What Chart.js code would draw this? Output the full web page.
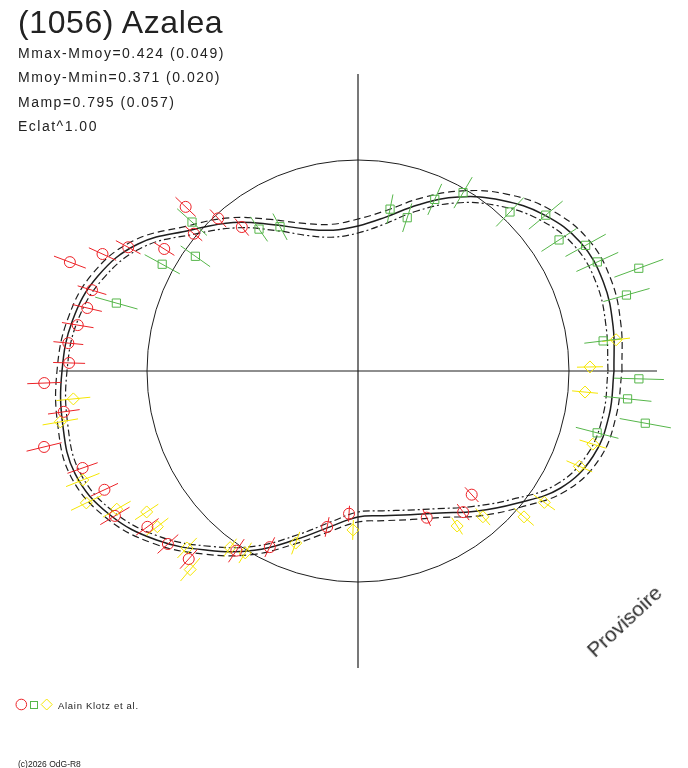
<!DOCTYPE html>
<html><head><meta charset="utf-8">
<script src="https://cdn.jsdelivr.net/npm/chart.js@4.4.1/dist/chart.umd.min.js"></script>
<style>
html,body{margin:0;padding:0;background:#fff;}
#wrap{position:relative;width:688px;height:768px;overflow:hidden;font-family:"Liberation Sans",Arial,sans-serif;color:#222;}
#c{position:absolute;left:0;top:0;}
.t{position:absolute;white-space:nowrap;line-height:1;}
</style></head><body>
<div id="wrap"><canvas id="c" width="688" height="768"></canvas></div>
<script>
// ---- texts ----
const TITLE = "(1056) Azalea";
const STATS = ["Mmax-Mmoy=0.424 (0.049)", "Mmoy-Mmin=0.371 (0.020)", "Mamp=0.795 (0.057)", "Eclat^1.00"];
const LEGEND_LABEL = "Alain Klotz et al.";
const COPYRIGHT = "(c)2026 OdG-R8";
const WATERMARK = "Provisoire";

// ---- mean lightcurve in polar form (angle deg, radius) ----
const CURVE_ANGLE = [0,10,20,30,40,50,60,70,80,90,100,110,120,130,140,150,160,170,180,190,200,210,220,230,240,250,260,270,280,290,300,310,320,330,340,350,360];
const CURVE_MID   = [256,259,261,257,243,223,201,177,156,145,143,151,169,194,219,254,277,290,296,300,301,287,263,234,207,179,158,146,147,153,164,183,206,234,250,255,256];
const CURVE_OUTER = [264,267,269,265,251,231,208,184,163,152,149,157,175,200,225,260,283,295,301,305,306,292,268,239,212,184,163,151,152,158,169,189,212,240,257,262,264];
const CURVE_INNER = [250,252,254,250,236,216,194,170,149,138,136,144,162,187,213,248,271,285,291,295,296,282,258,229,202,174,153,141,142,148,159,177,200,228,244,249,250];

// ---- observations: angle (deg), radius, error half-length ----
const RED_ANGLE = [128.9,132.5,136.4,140.1,147.8,151.7,155.4,159.3,163.1,166.9,170.7,174.5,178.4,182.2,187.9,193.6,199.4,205.1,210.8,216.5,222.3,228.0,235.9,243.4,258.8,266.4,295.1,306.7,312.6];
const RED_R     = [185,207,238,214,229,261,281,308,278,278,284,291,289,314,297,323,292,280,283,262,257,253,217,197,159,143,162,176,168];
const RED_ERR   = [11,12,14,11,12,14,15,17,15,15,16,15,16,17,16,18,16,15,17,14,14,13,14,11,10,8,9,10,10];

const GREEN_ANGLE = [345.5,349.7,354.1,358.4,7.0,15.8,20.1,24.5,28.9,33.1,39.7,46.3,59.5,65.9,72.2,78.8,118.4,124.9,138.1,144.8,151.4,164.3];
const GREEN_R     = [247,292,271,281,247,279,299,263,260,240,244,220,207,188,161,165,164,173,223,199,223,251];
const GREEN_ERR   = [22,26,24,25,19,24,26,23,23,21,22,20,18,17,15,15,15,15,20,18,20,22];

const YELLOW_ANGLE = [1.0,6.9,185.6,189.7,201.6,205.9,209.8,213.7,217.8,226.0,229.8,234.1,238.2,250.1,268.2,302.6,310.6,318.7,324.8,336.7,342.7,354.7];
const YELLOW_R     = [232,260,286,302,296,302,278,254,254,246,260,218,214,183,159,184,192,221,228,241,246,228];
const YELLOW_ERR   = [13,14,17,18,18,17,16,14,14,14,15,11,12,12,10,10,11,13,13,14,14,13];

const REF_CIRCLE_R = 211;
const AXIS_X_HALF = 299;
const AXIS_Y_HALF = 297;

// ---- colours ----
const RED = '#ec2227', GREEN = '#56b64a', YELLOW = '#f5e600', INK = '#1e1e1e';

function polar(a, r) { const t = a * Math.PI / 180; return { x: r * Math.cos(t), y: r * Math.sin(t) }; }
function toPoints(angles, radii) { return angles.map((a, i) => polar(a, radii[i])); }
function errorBars(angles, radii, errs) {
  const out = [];
  angles.forEach((a, i) => {
    out.push(polar(a, radii[i] - errs[i]));
    out.push(polar(a, radii[i] + errs[i]));
    out.push({ x: polar(a, radii[i]).x, y: null });
  });
  return out;
}

function lineDs(data, color, width, dash, order) {
  return { data, showLine: true, borderColor: color, borderWidth: width, borderDash: dash || [],
           pointRadius: 0, fill: false, tension: 0, order, spanGaps: false };
}
function curveDs(data, dash, width) {
  const d = lineDs(data, INK, width, dash, 8); d.tension = 0.4; return d;
}
function markerDs(data, color, style, radius) {
  return { data, showLine: false, pointStyle: style, pointRadius: radius, pointBorderColor: color,
           pointBackgroundColor: 'rgba(0,0,0,0)', pointBorderWidth: 1, borderColor: color, backgroundColor: 'rgba(0,0,0,0)', order: 1 };
}

const refCircle = {
  id: 'refCircle',
  beforeDatasetsDraw(chart) {
    const { ctx, scales: { x, y } } = chart;
    const cx = x.getPixelForValue(0), cy = y.getPixelForValue(0);
    const r = x.getPixelForValue(REF_CIRCLE_R) - cx;
    ctx.save(); ctx.strokeStyle = INK; ctx.lineWidth = 1;
    ctx.beginPath(); ctx.arc(cx, cy, r, 0, Math.PI * 2); ctx.stroke(); ctx.restore();
  }
};

const legendMarks = {
  id: 'legendMarks',
  afterDraw(chart) {
    const ctx = chart.ctx; ctx.save(); ctx.lineWidth = 1;
    ctx.strokeStyle = RED; ctx.beginPath(); ctx.arc(21.3, 704.5, 5.3, 0, Math.PI * 2); ctx.stroke();
    ctx.strokeStyle = GREEN; ctx.strokeRect(30.5, 701.5, 7, 7);
    ctx.strokeStyle = YELLOW; ctx.beginPath();
    ctx.moveTo(46.7, 699); ctx.lineTo(52.2, 704.5); ctx.lineTo(46.7, 710); ctx.lineTo(41.2, 704.5); ctx.closePath(); ctx.stroke();
    ctx.restore();
  }
};

new Chart(document.getElementById('c'), {
  type: 'scatter',
  data: {
    datasets: [
      lineDs([{ x: -AXIS_X_HALF, y: 0 }, { x: AXIS_X_HALF, y: 0 }], INK, 1.2, [], 10),
      lineDs([{ x: 0, y: -AXIS_Y_HALF }, { x: 0, y: AXIS_Y_HALF }], INK, 1.2, [], 10),
      curveDs(toPoints(CURVE_ANGLE, CURVE_MID), [], 1.5),
      curveDs(toPoints(CURVE_ANGLE, CURVE_OUTER), [7, 4], 1.2),
      curveDs(toPoints(CURVE_ANGLE, CURVE_INNER), [7, 3, 2, 3], 1.2),
      lineDs(errorBars(RED_ANGLE, RED_R, RED_ERR), RED, 1, [], 5),
      lineDs(errorBars(GREEN_ANGLE, GREEN_R, GREEN_ERR), GREEN, 1, [], 5),
      lineDs(errorBars(YELLOW_ANGLE, YELLOW_R, YELLOW_ERR), YELLOW, 1, [], 5),
      markerDs(toPoints(RED_ANGLE, RED_R), RED, 'circle', 5.5),
      markerDs(toPoints(GREEN_ANGLE, GREEN_R), GREEN, 'rect', 5.8),
      markerDs(toPoints(YELLOW_ANGLE, YELLOW_R), YELLOW, 'rectRot', 6)
    ]
  },
  options: {
    responsive: false, animation: false, events: [],
    layout: { padding: 0, autoPadding: false },
    plugins: { legend: { display: false }, tooltip: { enabled: false }, title: { display: false } },
    scales: {
      x: { type: 'linear', display: false, min: -358, max: 330 },
      y: { type: 'linear', display: false, min: -397, max: 371 }
    }
  },
  plugins: [refCircle, legendMarks]
});

// ---- real text overlays ----
const wrap = document.getElementById('wrap');
function addText(txt, css) {
  const d = document.createElement('div'); d.className = 't'; d.textContent = txt;
  Object.assign(d.style, css); wrap.appendChild(d); return d;
}
addText(TITLE, { left: '18px', top: '6px', fontSize: '32px', letterSpacing: '0.6px' });
STATS.forEach((s, i) => addText(s, { left: '18px', top: (45.5 + i * 24.6) + 'px', fontSize: '14px', letterSpacing: '1.5px' }));
addText(LEGEND_LABEL, { left: '58px', top: '700.7px', fontSize: '9.5px', letterSpacing: '0.7px' });
addText(COPYRIGHT, { left: '18px', top: '759.5px', fontSize: '8.5px' });
addText(WATERMARK, { left: '624px', top: '621px', fontSize: '21px', transform: 'translate(-50%,-50%) rotate(-43deg)', color: '#2a2a2a' });
</script>
</body></html>
